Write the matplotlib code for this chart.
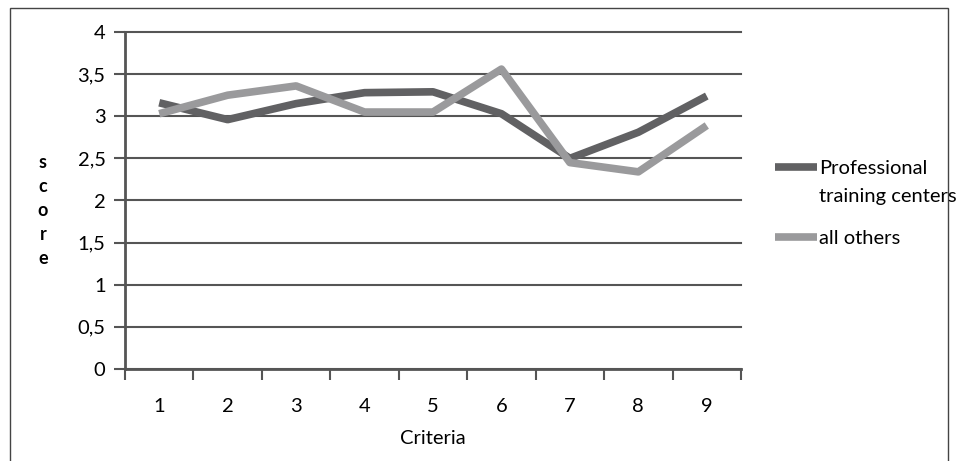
import numpy as np
import matplotlib.pyplot as plt
from matplotlib.patches import Rectangle

plt.rcParams['font.family'] = ['Lato', 'DejaVu Sans']

criteria = [1, 2, 3, 4, 5, 6, 7, 8, 9]
professional = [3.16, 2.96, 3.15, 3.28, 3.29, 3.03, 2.50, 2.81, 3.24]
all_others = [3.03, 3.25, 3.36, 3.05, 3.05, 3.56, 2.45, 2.34, 2.89]
y_ticks = [0, 0.5, 1, 1.5, 2, 2.5, 3, 3.5, 4]
y_labels = ['0', '0,5', '1', '1,5', '2', '2,5', '3', '3,5', '4']

W, H = 959, 461
fig = plt.figure(figsize=(W / 100, H / 100), dpi=100)
ax = fig.add_axes([125 / W, 1 - 369 / H, (741 - 125) / W, (369 - 32) / H])

# outer frame around the whole chart
fig.patches.append(Rectangle((10 / W, -0.01), 938 / W, 1 - 8 / H + 0.01,
                             transform=fig.transFigure, fill=False,
                             edgecolor='#444444', linewidth=1))

x = np.arange(len(criteria))
ax.plot(x, professional, color='#616163', linewidth=5.5, solid_capstyle='butt',
        label='Professional', zorder=3)
ax.plot(x, all_others, color='#9a9a9c', linewidth=5.5, solid_capstyle='butt',
        label='all others', zorder=4)

fs = 14.5
ax.set_xlim(-0.5, len(criteria) - 0.5)
ax.set_ylim(0, 4)
ax.set_yticks(y_ticks)
ax.set_yticklabels(y_labels, fontsize=fs)
ax.set_xticks(x)
ax.set_xticklabels([str(c) for c in criteria], fontsize=fs)
ax.set_xticks(np.arange(len(criteria) + 1) - 0.5, minor=True)
ax.tick_params(axis='x', which='major', length=0, pad=21)
ax.tick_params(axis='x', which='minor', length=8, width=1.5, color='#555555', direction='out')
ax.tick_params(axis='y', length=8, width=1.5, color='#555555', pad=6)

ax.grid(axis='y', color='#555555', linewidth=1.5)
for gl in ax.get_ygridlines():
    gl.set_clip_on(False)
ax.set_axisbelow(True)
for side in ['top', 'right']:
    ax.spines[side].set_visible(False)
for side in ['left', 'bottom']:
    ax.spines[side].set_color('#555555')
    ax.spines[side].set_linewidth(2)

ax.set_xlabel('Criteria', fontsize=fs, labelpad=11)
fig.text(43 / W, 1 - 211 / H, 's\nc\no\nr\ne', fontsize=13, fontweight='bold',
         ha='center', va='center', linespacing=1.5)

leg = ax.legend(loc='upper left', bbox_to_anchor=(775 / W, 1 - 160 / H),
                bbox_transform=fig.transFigure, borderaxespad=0, borderpad=0,
                frameon=False, fontsize=fs, handlelength=2.1, handletextpad=0.1,
                labelspacing=2.6)

# second line of the first legend label, placed under "Professional"
fig.canvas.draw()
bb = leg.get_texts()[0].get_window_extent()
fig.text(bb.x0 / W, (bb.y0 - 28) / H, 'training centers', fontsize=fs,
         ha='left', va='bottom')

fig.savefig('out.png', dpi=100)
